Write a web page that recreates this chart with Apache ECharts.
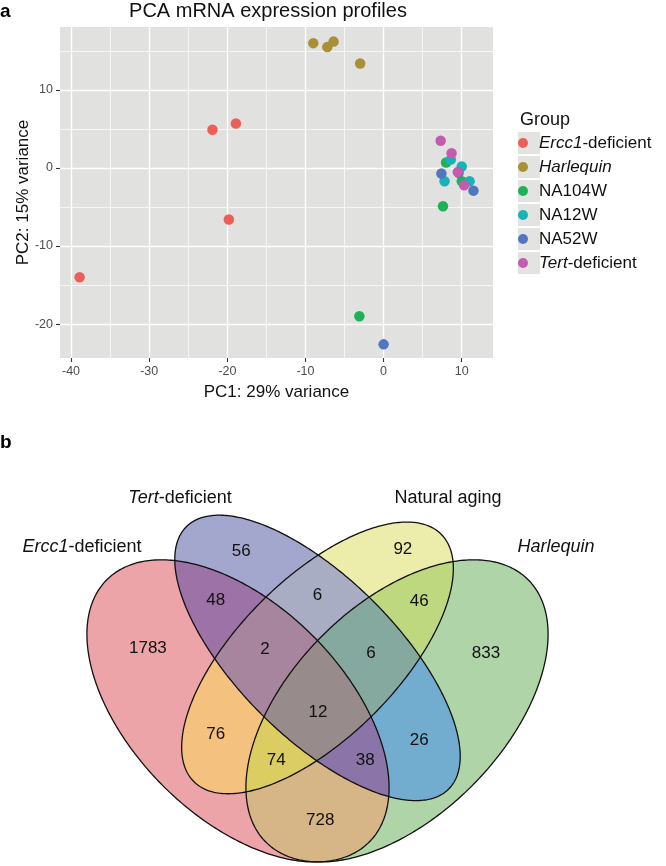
<!DOCTYPE html>
<html><head><meta charset="utf-8">
<script src="https://cdn.jsdelivr.net/npm/echarts@6/dist/echarts.min.js"></script>
<style>html,body{margin:0;padding:0;background:#fff}#c{width:666px;height:866px}</style>
</head><body><div id="c"></div>
<script>
// ================= DATA =================
// Panel a: PCA scores (PC1, PC2) per group
const groups = ['Ercc1-deficient', 'Harlequin', 'NA104W', 'NA12W', 'NA52W', 'Tert-deficient'];
const ercc1PC = [[-38.9, -14.0], [-21.9, 4.9], [-18.9, 5.7], [-19.8, -6.6]];
const harlequinPC = [[-9.0, 16.0], [-7.2, 15.5], [-6.4, 16.2], [-3.0, 13.4]];
const na104wPC = [[8.0, 0.7], [10.0, -1.7], [7.6, -4.9], [-3.1, -19.0]];
const na12wPC = [[8.6, 1.1], [10.0, 0.2], [7.8, -1.7], [11.0, -1.7]];
const na52wPC = [[7.4, -0.7], [9.6, -0.6], [11.5, -2.9], [0.0, -22.6]];
const tertPC = [[7.3, 3.5], [8.7, 1.9], [9.5, -0.5], [10.3, -2.2]];
const xTicks = [-40, -30, -20, -10, 0, 10];
const xMinor = [-35, -25, -15, -5, 5];
const yTicks = [-20, -10, 0, 10];
const yMinor = [-15, -5, 5, 15];

// Panel b: Venn region counts (E=Ercc1, T=Tert, N=Natural aging, H=Harlequin)
const vennSets = ['Ercc1-deficient', 'Tert-deficient', 'Natural aging', 'Harlequin'];
const vennRegions = ['E', 'T', 'N', 'H', 'ET', 'TN', 'NH', 'EN', 'TH', 'EH', 'ETN', 'TNH', 'ENH', 'ETH', 'ETNH'];
const vennCounts = [1783, 56, 92, 833, 48, 6, 46, 76, 26, 728, 2, 6, 74, 38, 12];

// ================= LAYOUT / STYLE =================
const FONT = 'Liberation Sans, Arial, Helvetica, sans-serif';
const groupColors = ['#EC5F59', '#A89134', '#1DB256', '#17B3B8', '#5077C0', '#C45BB0'];
const groupData = [ercc1PC, harlequinPC, na104wPC, na12wPC, na52wPC, tertPC];

// Venn ellipses in unit (npc) coordinates, y up
const ellipses = {
  E: {cx: 0.35, cy: 0.47, a: 0.35, b: 0.20, rot: 135},
  H: {cx: 0.65, cy: 0.47, a: 0.35, b: 0.20, rot: 45},
  N: {cx: 0.50, cy: 0.57, a: 0.33, b: 0.15, rot: 45},
  T: {cx: 0.50, cy: 0.57, a: 0.35, b: 0.15, rot: 135}
};
const regionFill = {
  E: '#EDA4A8', T: '#A4A7CD', N: '#ECECAB', H: '#AFD4A8',
  ET: '#9D72A7', TN: '#A8ADC3', NH: '#BED880', EN: '#F5C17F', TH: '#72ACCF', EH: '#D6B586',
  ETN: '#A8859F', TNH: '#86A99F', ENH: '#DCCD62', ETH: '#8B75A8', ETNH: '#978B8B'
};
// label anchor for each region (npc)
const regionLabelPos = {
  E: [0.180, 0.589], T: [0.356, 0.772], N: [0.661, 0.774], H: [0.818, 0.579],
  ET: [0.308, 0.679], TN: [0.500, 0.689], NH: [0.692, 0.677], EN: [0.308, 0.426],
  TH: [0.692, 0.415], EH: [0.505, 0.264], ETN: [0.401, 0.587], TNH: [0.601, 0.579],
  ENH: [0.422, 0.376], ETH: [0.590, 0.377], ETNH: [0.501, 0.468]
};

// ================= GEOMETRY HELPERS =================
function ellipsePts(e, n) {
  const r = e.rot * Math.PI / 180, pts = [];
  for (let i = 0; i < n; i++) {
    const t = 2 * Math.PI * i / n;
    const c = Math.cos(t), s = Math.sin(t);
    pts.push([e.cx + e.a * c * Math.cos(r) - e.b * s * Math.sin(r),
              e.cy + e.a * c * Math.sin(r) + e.b * s * Math.cos(r)]);
  }
  return pts;
}
function clipPoly(subject, clip) {
  let out = subject;
  for (let j = 0; j < clip.length; j++) {
    const A = clip[j], B = clip[(j + 1) % clip.length];
    const input = out; out = [];
    if (!input.length) break;
    const ex = B[0] - A[0], ey = B[1] - A[1];
    const inside = p => ex * (p[1] - A[1]) - ey * (p[0] - A[0]) >= 0;
    const inter = (P, Q) => {
      const dx = Q[0] - P[0], dy = Q[1] - P[1];
      const t = ((A[0] - P[0]) * ey - (A[1] - P[1]) * ex) / (dx * ey - dy * ex);
      return [P[0] + t * dx, P[1] + t * dy];
    };
    for (let i = 0; i < input.length; i++) {
      const cur = input[i], prev = input[(i + input.length - 1) % input.length];
      const ci = inside(cur), pi = inside(prev);
      if (ci) { if (!pi) out.push(inter(prev, cur)); out.push(cur); }
      else if (pi) out.push(inter(prev, cur));
    }
  }
  return out;
}
const ellPolys = {};
Object.keys(ellipses).forEach(k => ellPolys[k] = ellipsePts(ellipses[k], 360));
// paint intersections in order of increasing set size -> exact region colours
const paintOrder = vennRegions.map((k, i) => i).sort((a, b) => vennRegions[a].length - vennRegions[b].length);

// ================= CHART =================
const chart = echarts.init(document.getElementById('c'), null, {renderer: 'canvas'});

const axisLabelStyle = {color: '#4D4D4D', fontSize: 12.5, fontFamily: FONT};
const scatterSeries = groups.map((g, i) => ({
  name: g, type: 'scatter', xAxisIndex: 0, yAxisIndex: 0,
  data: groupData[i], symbol: 'circle', symbolSize: 10.5,
  itemStyle: {color: groupColors[i], opacity: 1}, z: 3
}));

const legendFmt = n => n === 'Ercc1-deficient' ? '{i|Ercc1}-deficient'
  : n === 'Harlequin' ? '{i|Harlequin}'
  : n === 'Tert-deficient' ? '{i|Tert}-deficient' : n;

const keyRects = groups.map((g, i) => ({
  type: 'rect', shape: {x: 518, y: 132 + i * 24, width: 22, height: 22},
  style: {fill: '#E3E3E1'}, z: 0, silent: true
}));

const option = {
  animation: false,
  backgroundColor: '#ffffff',
  textStyle: {fontFamily: FONT},
  grid: [
    {left: 60, top: 27, width: 433, height: 331, show: true, backgroundColor: '#E1E1DF', borderWidth: 0,
     containLabel: false, outerBoundsMode: 'none'},
    {left: 52.5, top: 430, width: 530, height: 436, containLabel: false, outerBoundsMode: 'none'}
  ],
  xAxis: [
    {type: 'value', gridIndex: 0, min: -41.41, max: 14.0, position: 'bottom',
     axisLine: {show: false, onZero: false},
     axisTick: {show: true, length: 4, lineStyle: {color: '#333', width: 1.1}, customValues: xTicks},
     axisLabel: Object.assign({margin: 7, customValues: xTicks}, axisLabelStyle),
     splitLine: {show: true, lineStyle: {color: '#ffffff', width: 1.4}},
     name: 'PC1: 29% variance', nameLocation: 'middle', nameGap: 26, nameMoveOverlap: false,
     nameTextStyle: {color: '#111', fontSize: 17, fontFamily: FONT}},
    {type: 'value', gridIndex: 0, min: -41.41, max: 14.0, position: 'bottom',
     axisLine: {show: false, onZero: false}, axisTick: {show: false, customValues: xMinor},
     axisLabel: {show: false, customValues: xMinor},
     splitLine: {show: true, lineStyle: {color: '#ffffff', width: 0.7}}},
    {type: 'value', gridIndex: 1, min: 0, max: 1, show: false}
  ],
  yAxis: [
    {type: 'value', gridIndex: 0, min: -24.35, max: 18.07, position: 'left',
     axisLine: {show: false, onZero: false},
     axisTick: {show: true, length: 4, lineStyle: {color: '#333', width: 1.1}, customValues: yTicks},
     axisLabel: Object.assign({margin: 7, customValues: yTicks}, axisLabelStyle),
     splitLine: {show: true, lineStyle: {color: '#ffffff', width: 1.4}},
     name: 'PC2: 15% variance', nameLocation: 'middle', nameGap: 28, nameRotate: 90, nameMoveOverlap: false,
     nameTextStyle: {color: '#111', fontSize: 17, fontFamily: FONT}},
    {type: 'value', gridIndex: 0, min: -24.35, max: 18.07, position: 'left',
     axisLine: {show: false, onZero: false}, axisTick: {show: false, customValues: yMinor},
     axisLabel: {show: false, customValues: yMinor},
     splitLine: {show: true, lineStyle: {color: '#ffffff', width: 0.7}}},
    {type: 'value', gridIndex: 1, min: 94 / 530, max: 1, show: false}
  ],
  legend: {
    data: groups, orient: 'vertical', left: 518, top: 134.5, padding: 0,
    itemWidth: 22, itemHeight: 10, itemGap: 7, icon: 'circle', selectedMode: false,
    formatter: legendFmt,
    textStyle: {color: '#111', fontSize: 17, lineHeight: 17, fontFamily: FONT,
      rich: {i: {fontStyle: 'italic', fontSize: 17, lineHeight: 17, fontFamily: FONT, color: '#111'}}}
  },
  graphic: [
    {type: 'text', x: 0, y: 2, style: {text: 'a', font: 'bold 19px ' + FONT, fill: '#000'}},
    {type: 'text', x: 0, y: 433, style: {text: 'b', font: 'bold 19px ' + FONT, fill: '#000'}},
    {type: 'text', x: 268, y: 11, style: {text: 'PCA mRNA expression profiles', font: '20px ' + FONT,
      fill: '#111', align: 'center', verticalAlign: 'middle'}},
    {type: 'text', x: 520, y: 120, style: {text: 'Group', font: '18px ' + FONT, fill: '#111',
      align: 'left', verticalAlign: 'middle'}},
    ...keyRects,
    {type: 'text', x: 82, y: 547, z: 10, style: {text: '{i|Ercc1}-deficient', font: '18px ' + FONT, fill: '#111',
      align: 'center', verticalAlign: 'middle', rich: {i: {fontStyle: 'italic', fontSize: 18, fontFamily: FONT, fill: '#111'}}}},
    {type: 'text', x: 180, y: 498, z: 10, style: {text: '{i|Tert}-deficient', font: '18px ' + FONT, fill: '#111',
      align: 'center', verticalAlign: 'middle', rich: {i: {fontStyle: 'italic', fontSize: 18, fontFamily: FONT, fill: '#111'}}}},
    {type: 'text', x: 448, y: 498, z: 10, style: {text: 'Natural aging', font: '18px ' + FONT, fill: '#111',
      align: 'center', verticalAlign: 'middle'}},
    {type: 'text', x: 556, y: 547, z: 10, style: {text: '{i|Harlequin}', font: '18px ' + FONT, fill: '#111',
      align: 'center', verticalAlign: 'middle', rich: {i: {fontStyle: 'italic', fontSize: 18, fontFamily: FONT, fill: '#111'}}}}
  ],
  series: [
    ...scatterSeries,
    {
      name: 'vennRegions', type: 'custom', xAxisIndex: 2, yAxisIndex: 2, clip: false, silent: true, z: 1,
      data: paintOrder.map(i => [i, vennCounts[i]]),
      renderItem: function (params, api) {
        const key = vennRegions[api.value(0)];
        let poly = ellPolys[key[0]];
        for (let k = 1; k < key.length; k++) poly = clipPoly(poly, ellPolys[key[k]]);
        return {type: 'polygon', shape: {points: poly.map(p => api.coord(p))},
          style: {fill: regionFill[key], stroke: regionFill[key], lineWidth: 0.3}};
      }
    },
    {
      name: 'vennOutlines', type: 'custom', xAxisIndex: 2, yAxisIndex: 2, clip: false, silent: true, z: 2,
      data: vennSets.map((s, i) => [i]),
      renderItem: function (params, api) {
        const key = ['E', 'T', 'N', 'H'][api.value(0)];
        return {type: 'polygon', shape: {points: ellPolys[key].map(p => api.coord(p))},
          style: {fill: null, stroke: '#111', lineWidth: 1.3}};
      }
    },
    {
      name: 'vennCounts', type: 'custom', xAxisIndex: 2, yAxisIndex: 2, clip: false, silent: true, z: 3,
      data: vennCounts.map((c, i) => [i, c]),
      renderItem: function (params, api) {
        const key = vennRegions[api.value(0)];
        const p = api.coord(regionLabelPos[key]);
        return {type: 'text', x: p[0], y: p[1],
          style: {text: String(api.value(1)), font: '17px ' + FONT, fill: '#111',
            align: 'center', verticalAlign: 'middle'}};
      }
    }
  ]
};
chart.setOption(option);
</script>
</body></html>
